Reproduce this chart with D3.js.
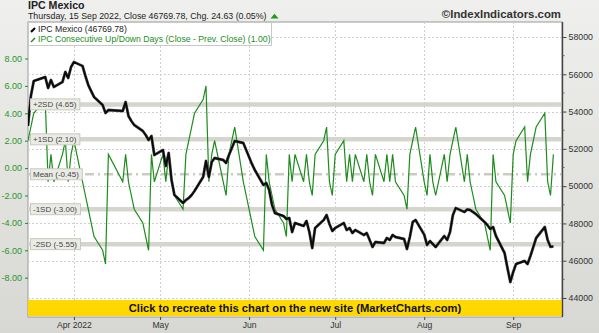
<!DOCTYPE html>
<html>
<head>
<meta charset="utf-8">
<script src="https://cdn.jsdelivr.net/npm/d3@7"></script>
<style>
	body { margin: 0; background: #fff; }
	text { font-family: "Liberation Sans", Arial, sans-serif; }
</style>
</head>
<body>
<div id="chart"></div>
<script>
// trading calendar (BMV), weekdays minus these closures
const startDay	= new Date(2022, 2, 16);
const endDay	= new Date(2022, 8, 16);
const holidays	= ["2022-03-21", "2022-04-14", "2022-04-15"];

// IPC Mexico close, one value per trading day, month by month
const closeMar = [53230, 54835, 55640, 55854, 55264, 55693, 55318, 55586, 56123, 55801, 56391];
const closeApr = [56659, 56444, 55908, 55425, 55103, 54782, 54352, 53923, 54084, 54031, 54513, 53762, 53494, 53280, 52958, 52743, 52475, 52690, 51670];
const closeMay = [51939, 51080, 51778, 50329, 49525, 49096, 49257, 49364, 49525, 49739, 50490, 51349, 50490, 51295, 51510, 51402, 51241, 51670, 52046, 52421, 52314, 51939];
const closeJun = [51563, 51188, 50866, 50061, 50169, 49793, 48988, 48559, 48398, 48238, 48291, 47540, 48023, 47862, 48130, 47540, 46682, 47755, 48184, 48452, 47969, 47594];
const closeJul = [47755, 48023, 47648, 47755, 47487, 47648, 47379, 47487, 47111, 46736, 47004, 46950, 47218, 47111, 47379, 47272, 47165, 46628, 47272, 48077, 48184];
const closeAug = [47400, 46843, 47057, 46897, 46736, 47326, 47111, 47540, 48452, 48828, 48613, 48750, 48720, 48613, 48506, 48077, 47916, 47701, 47808, 47326, 46414, 45609, 44858];
const closeSep = [45395, 45824, 45985, 45824, 46253, 46736, 47218, 47808, 47111, 46745.15, 46769.78];

// consecutive up/down days
const upDownMar = [2, 3, 4, 5, -1, 1, -1, 1, 2, -1, 1];
const upDownApr = [2, -1, -2, -3, -4, -5, -6, -7, 1, -1, 1, -1, -2, -3, -4, -5, -6, 1, -1];
const upDownMay = [1, -1, 1, -1, -2, -3, 1, 2, 3, 4, 5, 6, -1, 1, 2, -1, -2, 1, 2, 3, -1, -2];
const upDownJun = [-3, -4, -5, -6, 1, -1, -2, -3, -4, -5, 1, -1, 1, -1, 1, -1, -2, 1, 2, 3, -1, -2];
const upDownJul = [1, 2, -1, 1, -1, 1, -1, 1, -1, -2, 1, -1, 1, -1, 1, -1, -2, -3, 1, 2, 3];
const upDownAug = [-1, -2, 1, -1, -2, 1, -1, 1, 2, 3, -1, 1, -1, -2, -3, -4, -5, -6, 1, -1, -2, -3, -4];
const upDownSep = [1, 2, 3, -1, 1, 2, 3, 4, -1, -2, 1];

// statistic bands of the indicator
const bandNames		= ["+2SD", "+1SD", "Mean", "-1SD", "-2SD"];
const bandValues	= [4.65, 2.10, -0.45, -3.00, -5.55];

const leftTicks		= [-8, -6, -4, -2, 0, 2, 4, 6, 8];
const rightTicks	= [44000, 46000, 48000, 50000, 52000, 54000, 56000, 58000];
const monthTicks	= [new Date(2022, 3, 1), new Date(2022, 4, 1), new Date(2022, 5, 1), new Date(2022, 6, 1), new Date(2022, 7, 1), new Date(2022, 8, 1)];
const monthLabels	= ["Apr 2022", "May", "Jun", "Jul", "Aug", "Sep"];

const closes	= [].concat(closeMar, closeApr, closeMay, closeJun, closeJul, closeAug, closeSep);
const upDowns	= [].concat(upDownMar, upDownApr, upDownMay, upDownJun, upDownJul, upDownAug, upDownSep);
const fmtDay	= d3.timeFormat("%Y-%m-%d");
const days		= d3.timeDay.range(startDay, endDay)
	.filter((d) => d.getDay() % 6 !== 0 && !holidays.includes(fmtDay(d)));

const data = days.map((d, i) => ({ date: d, close: closes[i], upDown: upDowns[i] }));

let canvasWidth		= 599;
let canvasHeight	= 333;
let plot			= { left: 28, right: 562, top: 22, bottom: 317 };

let x	= d3.scaleTime().domain([new Date(2022, 2, 16), new Date(2022, 8, 18)]).range([plot.left, plot.right]);
let yL	= d3.scaleLinear().domain([-8, 8]).range([277.7, 58.5]);
let yR	= d3.scaleLinear().domain([44000, 58000]).range([298, 37]);

let svg = d3.select("#chart").append("svg")
	.attr("width", canvasWidth)
	.attr("height", canvasHeight);

let defs = svg.append("defs");
let grad = defs.append("linearGradient").attr("id", "bg").attr("x1", 0).attr("y1", 0).attr("x2", 0).attr("y2", 1);
grad.append("stop").attr("offset", "0%").attr("stop-color", "#efefed");
grad.append("stop").attr("offset", "100%").attr("stop-color", "#d7d7d3");
defs.append("clipPath").attr("id", "clip").append("rect")
	.attr("x", plot.left).attr("y", plot.top)
	.attr("width", plot.right - plot.left).attr("height", plot.bottom - plot.top);

svg.append("rect").attr("width", canvasWidth).attr("height", canvasHeight).attr("fill", "url(#bg)");
svg.append("rect")
	.attr("x", plot.left).attr("y", plot.top)
	.attr("width", plot.right - plot.left).attr("height", plot.bottom - plot.top)
	.attr("fill", "#fff").attr("stroke", "#9a9a9a");

// header
svg.append("text").attr("x", 28).attr("y", 9).attr("font-size", 10.6).attr("font-weight", "bold").attr("fill", "#222").text("IPC Mexico");
let subtitle = svg.append("text").attr("x", 28).attr("y", 18.5).attr("font-size", 8.8).attr("fill", "#222")
	.text("Thursday, 15 Sep 2022, Close 46769.78, Chg. 24.63 (0.05%)");
let subEnd = 28 + subtitle.node().getComputedTextLength();
svg.append("path")
	.attr("d", "M" + (subEnd + 4) + ",18.5 l4,-4.7 l4,4.7 Z")
	.attr("fill", "#1f9a1f");
svg.append("text").attr("x", 561).attr("y", 18).attr("text-anchor", "end")
	.attr("font-size", 11.4).attr("font-weight", "bold").attr("fill", "#333").text("©IndexIndicators.com");

let inner = svg.append("g").attr("clip-path", "url(#clip)");

// grid
inner.selectAll(".hgrid").data(rightTicks).enter().append("line")
	.attr("x1", plot.left).attr("x2", plot.right)
	.attr("y1", (d) => Math.round(yR(d)) + 0.5).attr("y2", (d) => Math.round(yR(d)) + 0.5)
	.attr("stroke", "#cfcfcf").attr("stroke-dasharray", "2,2");
inner.selectAll(".vgrid").data(monthTicks).enter().append("line")
	.attr("x1", (d) => Math.round(x(d)) + 0.5).attr("x2", (d) => Math.round(x(d)) + 0.5)
	.attr("y1", plot.top).attr("y2", plot.bottom)
	.attr("stroke", "#cfcfcf").attr("stroke-dasharray", "2,2");

// SD bands
inner.selectAll(".band").data(bandValues).enter().append("line")
	.attr("x1", plot.left).attr("x2", plot.right)
	.attr("y1", (d) => yL(d)).attr("y2", (d) => yL(d))
	.attr("stroke", (d, i) => (i === 2 ? "#cbcbc3" : "#d5d5cd"))
	.attr("stroke-width", (d, i) => (i === 2 ? 2.5 : 4.5))
	.attr("stroke-dasharray", (d, i) => (i === 2 ? "9,4,2,4" : null));

// series
inner.append("path").datum(data)
	.attr("fill", "none").attr("stroke", "#1c8c1c").attr("stroke-width", 1.2)
	.attr("d", d3.line().x((o) => x(o.date)).y((o) => yL(o.upDown)));

inner.append("path").datum(data)
	.attr("fill", "none").attr("stroke", "#666").attr("stroke-width", 2.9).attr("stroke-linejoin", "round")
	.attr("d", d3.line().x((o) => x(o.date)).y((o) => yR(o.close)));
inner.append("path").datum(data)
	.attr("fill", "none").attr("stroke", "#0a0a0a").attr("stroke-width", 1.9).attr("stroke-linejoin", "round")
	.attr("d", d3.line().x((o) => x(o.date)).y((o) => yR(o.close)));

// band labels
let bandLabel = svg.selectAll(".band-label").data(bandValues).enter().append("g")
	.attr("transform", (d) => "translate(30," + yL(d) + ")");
bandLabel.append("text")
	.attr("x", 3).attr("y", 3)
	.attr("font-size", 8).attr("fill", "#444")
	.text((d, i) => bandNames[i] + " (" + d.toFixed(2) + ")");
bandLabel.each(function () {
	let g = d3.select(this);
	let w = g.select("text").node().getComputedTextLength();
	g.insert("rect", "text")
		.attr("x", 0.5).attr("y", -5.5).attr("width", w + 6).attr("height", 11)
		.attr("fill", "#ebebe5").attr("stroke", "#c9c9c1");
});

// legend
let legend = svg.append("g");
legend.append("rect").attr("x", 28.5).attr("y", 22.5).attr("width", 243).attr("height", 23)
	.attr("fill", "#fff").attr("stroke", "#c8c8c8");
legend.append("line").attr("x1", 31).attr("y1", 32).attr("x2", 35).attr("y2", 28)
	.attr("stroke", "#000").attr("stroke-width", 2.2);
legend.append("line").attr("x1", 31).attr("y1", 42).attr("x2", 35).attr("y2", 38)
	.attr("stroke", "#1c8c1c").attr("stroke-width", 1.4);
legend.append("text").attr("x", 38).attr("y", 32).attr("font-size", 8.7).attr("fill", "#222")
	.text("IPC Mexico (46769.78)");
legend.append("text").attr("x", 38).attr("y", 42).attr("font-size", 8.7).attr("fill", "#1c8c1c")
	.text("IPC Consecutive Up/Down Days (Close - Prev. Close) (1.00)");

// banner
svg.append("rect").attr("x", plot.left).attr("y", 300).attr("width", plot.right - plot.left).attr("height", 16)
	.attr("fill", "#ffd800");
svg.append("text").attr("x", (plot.left + plot.right) / 2).attr("y", 312).attr("text-anchor", "middle")
	.attr("font-size", 11.2).attr("font-weight", "bold").attr("fill", "#111")
	.text("Click to recreate this chart on the new site (MarketCharts.com)");

// axes
svg.append("line").attr("x1", plot.right + 0.5).attr("x2", plot.right + 0.5).attr("y1", plot.top).attr("y2", plot.bottom)
	.attr("stroke", "#444").attr("stroke-width", 1.4);

let rightAxis = svg.append("g")
	.attr("transform", "translate(" + (plot.right + 0.5) + ",0)")
	.call(d3.axisRight(yR).tickValues(rightTicks).tickSize(4).tickPadding(2).tickFormat(d3.format("d")));
rightAxis.select(".domain").remove();
rightAxis.selectAll("line").attr("stroke", "#444");
rightAxis.selectAll("text").attr("font-size", 8.8).attr("fill", "#333").style("font-family", "Liberation Sans, Arial, sans-serif");
svg.append("g").attr("transform", "translate(" + (plot.right + 0.5) + ",0)")
	.selectAll("line").data(d3.range(45000, 58000, 2000)).enter().append("line")
	.attr("x1", 0).attr("x2", 2).attr("y1", (d) => yR(d)).attr("y2", (d) => yR(d)).attr("stroke", "#666");

let leftAxis = svg.append("g")
	.attr("transform", "translate(" + plot.left + ",0)")
	.call(d3.axisLeft(yL).tickValues(leftTicks).tickSize(3).tickPadding(3).tickFormat((d) => d.toFixed(2)));
leftAxis.select(".domain").remove();
leftAxis.selectAll("line").attr("stroke", "#1c8c1c");
leftAxis.selectAll("text").attr("font-size", 9).attr("fill", "#2a952a").style("font-family", "Liberation Sans, Arial, sans-serif");

let bottomAxis = svg.append("g")
	.attr("transform", "translate(0," + plot.bottom + ")")
	.call(d3.axisBottom(x).tickValues(monthTicks).tickSize(3).tickPadding(2).tickFormat((d, i) => monthLabels[i]));
bottomAxis.select(".domain").remove();
bottomAxis.selectAll("line").attr("stroke", "#444");
bottomAxis.selectAll("text").attr("font-size", 8.6).attr("fill", "#333").style("font-family", "Liberation Sans, Arial, sans-serif");
</script>
</body>
</html>
